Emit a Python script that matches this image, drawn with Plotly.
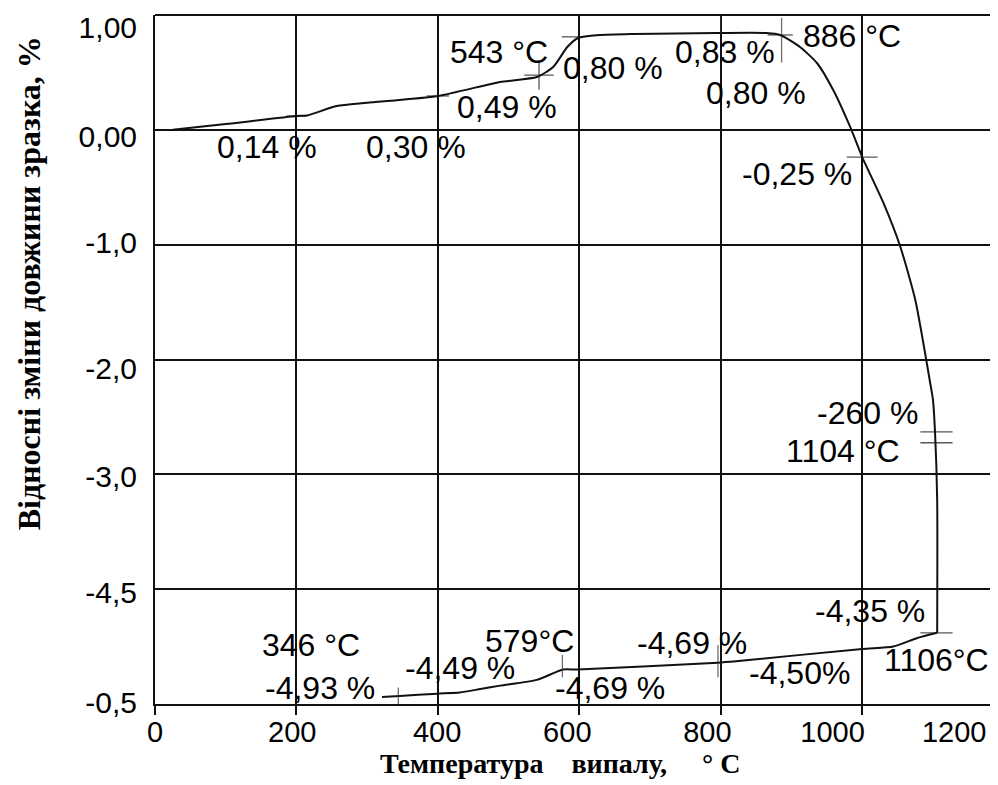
import plotly.graph_objects as go

# ---- data (y in grid units: gridlines at 1..-5) ----
heat_T = [25, 100, 200, 215, 257, 300, 400, 488, 540, 563, 583, 598, 629, 676,
          795, 865, 884, 912, 936, 959, 983, 1000, 1030, 1054, 1075, 1096, 1100,
          1103, 1106, 1106]
heat_dL = [0.0, 0.05, 0.12, 0.125, 0.207, 0.235, 0.295, 0.417, 0.46, 0.547,
           0.721, 0.80, 0.826, 0.835, 0.843, 0.843, 0.826, 0.721, 0.582, 0.347,
           0.025, -0.237, -0.637, -1.02, -1.48, -2.20, -2.35, -2.64, -3.22, -4.38]

cool_T = [1106, 1078, 1044, 1000, 818, 796, 598, 577, 540, 488, 460, 431, 399,
          346, 321]
cool_dL = [-4.38, -4.425, -4.50, -4.52, -4.63, -4.64, -4.70, -4.70, -4.79,
           -4.84, -4.87, -4.90, -4.91, -4.93, -4.94]

# marked points (cross / tick marks on the curve)
cross_T = [543, 1000]
cross_dL = [0.477, -0.237]
hmark_T = [200, 400, 588, 800, 884, 1105, 1105, 1105]
hmark_dL = [0.12, 0.295, 0.81, 0.843, 0.826, -2.63, -2.725, -4.38]
vmark_T = [800, 886, 796, 576, 344]
vmark_dL = [0.92, 0.78, -4.626, -4.67, -4.965]

# mark sizes (style, kept apart from the values)
cross_size = [21, 22]
hmark_size = [14, 16, 13, 12, 18, 23, 23, 23]
vmark_size = [13, 32, 23, 16, 18]

# text labels
label_text = ["0,14 %", "0,30 %", "543 °C", "0,49 %", "0,80 %", "0,83 %",
              "0,80 %", "886 °C", "-0,25 %", "-260 %", "1104 °C", "-4,35 %",
              "1106°C", "-4,50%", "-4,69 %", "-4,69 %", "579°C", "-4,49 %",
              "346 °C", "-4,93 %"]
label_x = [158, 369, 487, 498, 648, 806, 850, 986, 908, 1007, 973, 1011,
           1105, 911, 760, 644, 530, 431, 221, 233]
label_y = [-0.15, -0.15, 0.678, 0.199, 0.538, 0.678, 0.321, 0.817, -0.385,
           -2.466, -2.797, -4.19, -4.617, -4.73, -4.47, -4.86, -4.45, -4.69,
           -4.49, -4.86]

# axes: gridlines and (slightly offset) tick-label positions as drawn
y_gridvals = [1, 0, -1, -2, -3, -4, -5]
y_labelpos = [0.895, -0.054, -0.977, -2.074, -3.023, -4.025, -4.983]
y_ticktext = ["1,00", "0,00", "-1,0", "-2,0", "-3,0", "-4,5", "-0,5"]
x_gridvals = [0, 200, 400, 600, 800, 1000]
x_labelpos = [0, 194, 399, 583, 781, 958, 1130]
x_ticktext = ["0", "200", "400", "600", "800", "1000", "1200"]

x_title = "Температура\u00a0\u00a0\u00a0\u00a0випалу,\u00a0\u00a0\u00a0\u00a0\u00a0°\u00a0C"
y_title = "Відносні зміни довжини зразка, %"

INK = "#111111"
fig = go.Figure()
fig.add_trace(go.Scatter(x=heat_T, y=heat_dL, mode="lines",
                         line=dict(color=INK, width=2, shape="spline",
                                   smoothing=0.6), showlegend=False))
fig.add_trace(go.Scatter(x=cool_T, y=cool_dL, mode="lines",
                         line=dict(color=INK, width=2, shape="spline",
                                   smoothing=0.6), showlegend=False))
fig.add_trace(go.Scatter(x=cross_T, y=cross_dL, mode="markers",
                         marker=dict(symbol="cross-thin", size=cross_size,
                                     line=dict(color=INK, width=1.3)),
                         showlegend=False))
fig.add_trace(go.Scatter(x=hmark_T, y=hmark_dL, mode="markers",
                         marker=dict(symbol="line-ew", size=hmark_size,
                                     line=dict(color=INK, width=1.3)),
                         showlegend=False))
fig.add_trace(go.Scatter(x=vmark_T, y=vmark_dL, mode="markers",
                         marker=dict(symbol="line-ns", size=vmark_size,
                                     line=dict(color="#333333", width=1.3)),
                         showlegend=False))

for t, x, y in zip(label_text, label_x, label_y):
    fig.add_annotation(x=x, y=y, text=t, showarrow=False, xanchor="center",
                       yanchor="middle",
                       font=dict(family="Liberation Sans, Arial", size=32,
                                 color="black"))

fig.add_annotation(xref="paper", yref="paper", x=0.480, y=-0.086,
                   text=x_title, showarrow=False, xanchor="center",
                   yanchor="middle",
                   font=dict(family="Liberation Serif, Times New Roman",
                             size=28, color="black", weight="bold"))
fig.add_annotation(xref="paper", yref="paper", x=-0.150, y=0.61,
                   text=y_title, showarrow=False, textangle=-90,
                   xanchor="center", yanchor="middle",
                   font=dict(family="Liberation Serif, Times New Roman",
                             size=32, color="black", weight="bold"))

fig.add_shape(type="line", xref="paper", yref="paper", x0=0, x1=1, y0=1, y1=1,
              line=dict(color=INK, width=2))

# the page adds an 8px body margin, so the figure is 8px smaller and shifted
fig.update_layout(
    width=990, height=777,
    margin=dict(l=147, r=0, t=7, b=81),
    paper_bgcolor="white", plot_bgcolor="white",
    xaxis=dict(range=[0, 1192], tickmode="array", tickvals=x_labelpos,
               ticktext=x_ticktext, showgrid=False, zeroline=False,
               showline=True, linecolor=INK, linewidth=2, ticks="",
               ticklabelstandoff=1, automargin=False,
               ticklabeloverflow="allow",
               tickfont=dict(family="Liberation Sans, Arial", size=29,
                             color="black"),
               minor=dict(tickmode="array", tickvals=x_gridvals, showgrid=True,
                          gridcolor=INK, gridwidth=1.5, ticks="outside",
                          ticklen=9, tickcolor=INK, tickwidth=1.5)),
    yaxis=dict(range=[-5, 1], tickmode="array", tickvals=y_labelpos,
               ticktext=y_ticktext, showgrid=False, zeroline=False,
               showline=True, linecolor=INK, linewidth=2, ticks="",
               ticklabelstandoff=10, automargin=False,
               ticklabeloverflow="allow",
               tickfont=dict(family="Liberation Sans, Arial", size=30,
                             color="black"),
               minor=dict(tickmode="array", tickvals=y_gridvals, showgrid=True,
                          gridcolor=INK, gridwidth=1.5, ticks="")),
)

fig.write_html("out.html")
